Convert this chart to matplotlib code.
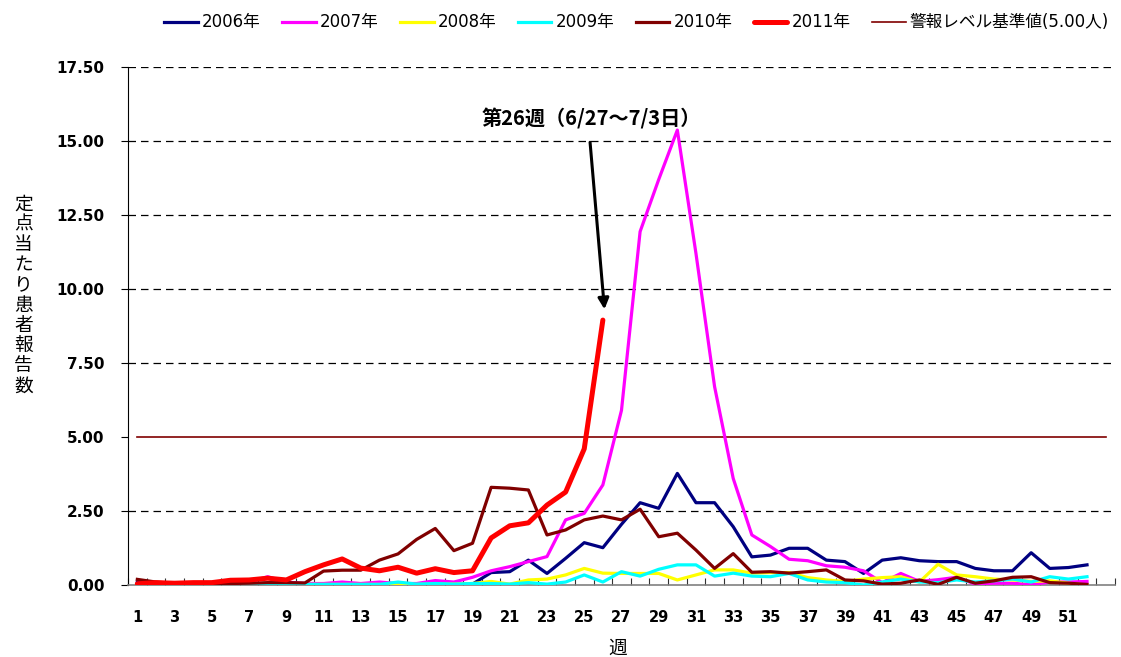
import numpy as np
import matplotlib.pyplot as plt
from matplotlib.ticker import FixedLocator

plt.rcParams['font.family'] = ['DejaVu Sans', 'Noto Sans CJK JP']

# 週ごとの定点当たり患者報告数
weeks = np.arange(1, 53)
y2006 = [0.10, 0.05, 0.05, 0.05, 0.03, 0.03, 0.03, 0.05, 0.05, 0.03,
         0.02, 0.03, 0.03, 0.02, 0.03, 0.02, 0.03, 0.02, 0.03, 0.42,
         0.45, 0.84, 0.39, 0.90, 1.43, 1.26, 2.05, 2.78, 2.59, 3.77,
         2.78, 2.78, 1.97, 0.95, 1.01, 1.24, 1.24, 0.84, 0.79, 0.39,
         0.84, 0.92, 0.82, 0.79, 0.79, 0.56, 0.48, 0.48, 1.09, 0.56,
         0.59, 0.68]
y2007 = [0.05, 0.05, 0.05, 0.05, 0.05, 0.05, 0.10, 0.28, 0.10, 0.05,
         0.05, 0.10, 0.05, 0.10, 0.05, 0.05, 0.15, 0.10, 0.26, 0.48,
         0.62, 0.79, 0.96, 2.20, 2.42, 3.38, 5.90, 11.94, 13.70, 15.37,
         11.20, 6.70, 3.60, 1.69, 1.30, 0.87, 0.82, 0.65, 0.60, 0.48,
         0.08, 0.39, 0.12, 0.18, 0.26, 0.03, 0.06, 0.06, 0.01, 0.10,
         0.10, 0.12]
y2008 = [0.02, 0.02, 0.03, 0.02, 0.02, 0.02, 0.02, 0.02, 0.02, 0.02,
         0.02, 0.02, 0.02, 0.02, 0.00, 0.02, 0.03, 0.03, 0.05, 0.12,
         0.03, 0.17, 0.20, 0.34, 0.56, 0.40, 0.39, 0.39, 0.39, 0.17,
         0.34, 0.51, 0.51, 0.40, 0.42, 0.42, 0.25, 0.17, 0.12, 0.20,
         0.25, 0.28, 0.10, 0.70, 0.34, 0.28, 0.20, 0.17, 0.12, 0.14,
         0.06, 0.00]
y2009 = [0.02, 0.02, 0.02, 0.02, 0.02, 0.02, 0.02, 0.02, 0.02, 0.02,
         0.02, 0.02, 0.02, 0.02, 0.10, 0.03, 0.05, 0.03, 0.05, 0.05,
         0.03, 0.08, 0.03, 0.10, 0.34, 0.10, 0.45, 0.30, 0.53, 0.68,
         0.68, 0.30, 0.40, 0.30, 0.28, 0.39, 0.17, 0.10, 0.08, 0.00,
         0.10, 0.20, 0.10, 0.08, 0.17, 0.10, 0.14, 0.20, 0.10, 0.28,
         0.20, 0.28]
y2010 = [0.19, 0.10, 0.05, 0.04, 0.04, 0.05, 0.06, 0.08, 0.08, 0.07,
         0.47, 0.50, 0.50, 0.84, 1.05, 1.54, 1.91, 1.16, 1.41, 3.30,
         3.27, 3.21, 1.69, 1.86, 2.20, 2.33, 2.20, 2.56, 1.63, 1.75,
         1.18, 0.56, 1.06, 0.43, 0.45, 0.40, 0.45, 0.51, 0.17, 0.14,
         0.03, 0.06, 0.17, 0.02, 0.26, 0.06, 0.14, 0.26, 0.28, 0.08,
         0.06, 0.02]
weeks2011 = np.arange(1, 27)
y2011 = [0.04, 0.08, 0.06, 0.08, 0.08, 0.16, 0.17, 0.23, 0.17, 0.45,
         0.68, 0.88, 0.57, 0.48, 0.60, 0.40, 0.55, 0.42, 0.48, 1.59,
         2.00, 2.10, 2.70, 3.14, 4.60, 8.95]
alarm_level = 5.00

fig = plt.figure(figsize=(11.21, 6.57), dpi=100)
ax = fig.add_axes([0.1142, 0.1096, 0.8804, 0.7884])

for yv in [2.5, 7.5, 10, 12.5, 15, 17.5]:
    ax.axhline(yv, color='black', linewidth=0.9, dashes=(6, 4), zorder=1)

lw = 2.3
ax.plot(weeks, y2006, color='#000080', linewidth=lw, label='2006年', zorder=3)
ax.plot(weeks, y2007, color='#FF00FF', linewidth=lw, label='2007年', zorder=3)
ax.plot(weeks, y2008, color='#FFFF00', linewidth=lw, label='2008年', zorder=3)
ax.plot(weeks, y2009, color='#00FFFF', linewidth=lw, label='2009年', zorder=3)
ax.plot(weeks, y2010, color='#800000', linewidth=lw, label='2010年', zorder=4,
        solid_joinstyle='round')
ax.plot(weeks2011, y2011, color='#FF0000', linewidth=3.6, label='2011年', zorder=5,
        solid_capstyle='round', solid_joinstyle='round')
ax.plot([1, 53], [alarm_level, alarm_level], color='#800000', linewidth=1.2,
        label='警報レベル基準値(5.00人)', zorder=2)

ax.set_xlim(0.5, 53.5)
ax.set_ylim(0, 17.5)

ax.set_yticks(np.arange(0, 17.51, 2.5))
ax.set_yticklabels(['%.2f' % v for v in np.arange(0, 17.51, 2.5)],
                   fontweight='bold', fontsize=11)
ax.tick_params(axis='y', direction='out', length=5, width=0.8, pad=12)

odd_weeks = list(range(1, 52, 2))
ax.set_xticks(odd_weeks)
ax.set_xticklabels([str(w) for w in odd_weeks], fontweight='bold', fontsize=10.5)
ax.tick_params(axis='x', which='major', length=0, pad=18)
ax.xaxis.set_minor_locator(FixedLocator(np.arange(0.5, 53.6, 1)))
ax.tick_params(axis='x', which='minor', direction='in', length=5, width=0.8,
               color='#333333')

ax.spines['top'].set_visible(False)
ax.spines['right'].set_visible(False)
ax.spines['left'].set_linewidth(0.8)
ax.spines['bottom'].set_color('#808080')
ax.spines['bottom'].set_linewidth(1.2)

fig.text(0.021, 0.551, '\n'.join('定点当たり患者報告数'), fontsize=13.5,
         family=['Noto Sans CJK JP'], ha='center', va='center', linespacing=0.95)
fig.text(0.551, 0.0137, '週', fontsize=13.5, family=['Noto Sans CJK JP'],
         ha='center', va='center')

ax.annotate('', xy=(26.1, 9.22), xytext=(25.3, 15.05),
            arrowprops=dict(arrowstyle='-|>', color='black', lw=2.2,
                            mutation_scale=16), zorder=6)
ax.text(25.4, 15.75, '第26週（6/27～7/3日）', fontsize=14.5, fontweight='bold',
        family=['Noto Sans CJK JP'], ha='center', va='center', zorder=6)

leg = fig.legend(loc='center', bbox_to_anchor=(0.568, 0.966), ncol=7,
                 frameon=False, handlelength=2.0, handletextpad=0.25,
                 columnspacing=1.3,
                 prop={'family': ['DejaVu Sans', 'Noto Sans CJK JP'], 'size': 12})

fig.savefig('out.png', dpi=100)
